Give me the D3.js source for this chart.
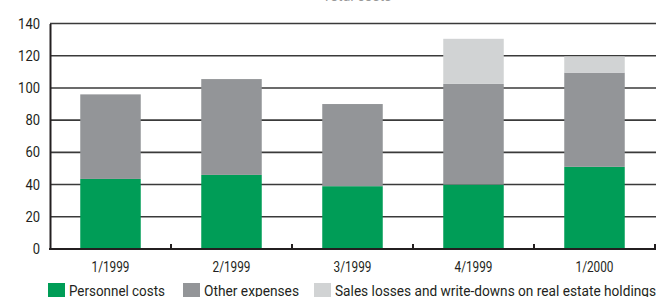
<!DOCTYPE html>
<html><head><meta charset="utf-8">
<script src="https://cdn.jsdelivr.net/npm/d3@7"></script>
<style>
html,body{margin:0;padding:0;background:#fff;}
svg text{font-family:Roboto,"Noto Sans",sans-serif;fill:#231f20;}
</style></head>
<body><svg id="c" width="659" height="297"></svg>
<script>
const categories = ["1/1999","2/1999","3/1999","4/1999","1/2000"];
const personnel = [43.5, 46, 39, 40, 51];
const other = [52.5, 59.5, 51, 62.5, 58.5];
const sales = [0, 0, 0, 28, 10];
const seriesNames = ["Personnel costs","Other expenses","Sales losses and write-downs on real estate holdings"];
const seriesColors = ["#009d57","#939598","#d1d3d4"];
const yTicks = [0,20,40,60,80,100,120,140];
const title = "Total costs";

const svg = d3.select("#c");
const m = {l:50};
const x = d3.scaleBand().domain(categories).range([m.l, 655]).paddingInner(0.5).paddingOuter(0.25);
const y = d3.scaleLinear().domain([0,140]).range([249, 23.5]);

svg.append("text").attr("x", 357).attr("y", 0.8).attr("text-anchor","middle")
  .style("font-size","14px").style("fill","#999").text(title);

// gridlines
svg.append("g").selectAll("line").data(yTicks.filter(d=>d>0)).join("line")
  .attr("x1", m.l).attr("x2", 656).attr("y1", d=>y(d)).attr("y2", d=>y(d))
  .attr("stroke","#3a3a3a").attr("stroke-width",1.6);

// stacked bars
const data = categories.map((c,i)=>({cat:c, p:personnel[i], o:other[i], s:sales[i]}));
const stack = d3.stack().keys(["p","o","s"])(data);
svg.append("g").selectAll("g").data(stack).join("g")
  .attr("fill",(d,i)=>seriesColors[i])
  .selectAll("rect").data(d=>d).join("rect")
  .attr("x", d=>x(d.data.cat)).attr("width", x.bandwidth())
  .attr("y", d=>y(d[1])).attr("height", d=>y(d[0])-y(d[1]));

// y axis
const ya = svg.append("g").attr("transform",`translate(${m.l},0)`)
  .call(d3.axisLeft(y).tickValues(yTicks).tickSize(0).tickPadding(10));
ya.select(".domain").attr("stroke","#231f20").attr("stroke-width",2);
ya.selectAll("text").style("font-size","14.5px").style("font-family","Roboto, sans-serif").attr("fill","#231f20")
  .attr("textLength", d=>String(d).length*7.3).attr("lengthAdjust","spacingAndGlyphs");

// x axis
const xa = svg.append("g").attr("transform",`translate(0,${y(0)})`)
  .call(d3.axisBottom(x).tickSize(0).tickPadding(12));
xa.select(".domain").remove();
xa.selectAll("text").style("font-size","15px").style("font-family","Roboto, sans-serif").attr("fill","#231f20")
  .attr("textLength", 38).attr("lengthAdjust","spacingAndGlyphs");
svg.append("line").attr("x1", m.l-1).attr("x2", 656).attr("y1", y(0)).attr("y2", y(0))
  .attr("stroke","#231f20").attr("stroke-width",2);
const bounds = categories.map(c=>x(c) + x.bandwidth() + x.step()*x.paddingInner()/2);
svg.append("g").selectAll("line").data(bounds).join("line")
  .attr("x1", d=>d).attr("x2", d=>d).attr("y1", y(0)).attr("y2", y(0)-5)
  .attr("stroke","#231f20").attr("stroke-width",2);

// legend
const legX = [48, 183, 314];
const legW = [96, 95, 321];
const lg = svg.append("g").selectAll("g").data(seriesNames).join("g")
  .attr("transform",(d,i)=>`translate(${legX[i]},283)`);
lg.append("rect").attr("width",17).attr("height",16).attr("fill",(d,i)=>seriesColors[i]);
lg.append("text").attr("x",21).attr("y",12.5).style("font-size","15px")
  .attr("textLength",(d,i)=>legW[i]).attr("lengthAdjust","spacingAndGlyphs").text(d=>d);
</script></body></html>
